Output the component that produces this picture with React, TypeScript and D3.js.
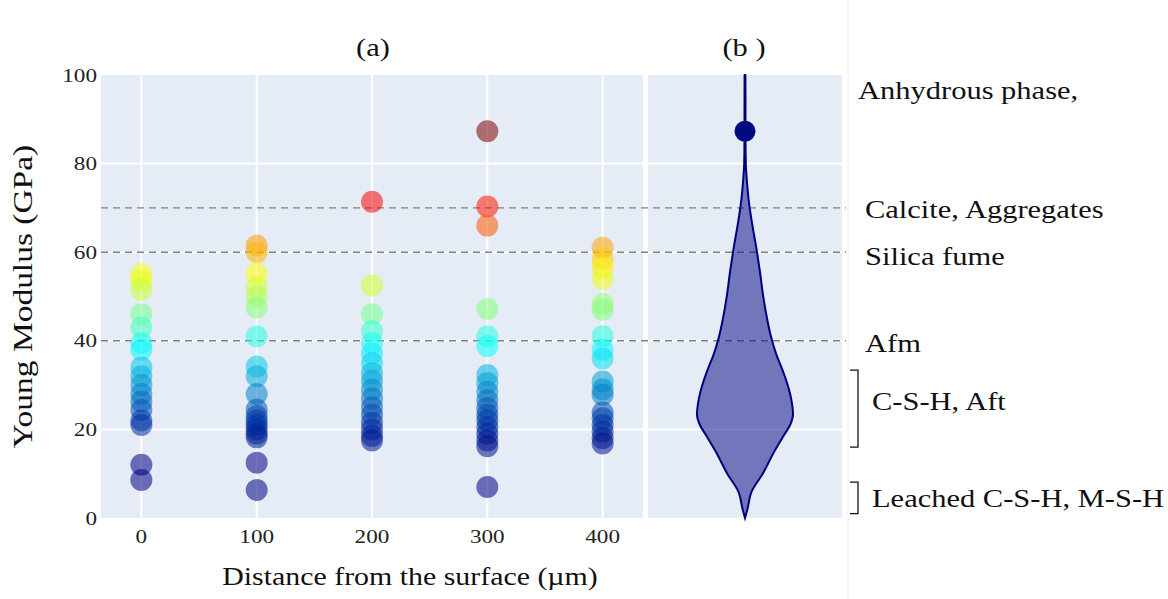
import React from 'react';
import * as d3 from 'd3';

const width = 1168;
const height = 599;

// distance from the surface (µm) for each measured column
const distances = [0, 100, 200, 300, 400];
const modulus0 = [55, 53.5, 51.5, 46, 43, 39.5, 38, 34, 32, 30, 28, 26.3, 24.4, 22, 21, 12, 8.6];
const modulus100 = [61.5, 60, 55.2, 52.2, 50, 47.5, 41, 34.2, 32, 28, 24.5, 23, 22, 21, 20, 19, 18.2, 12.5, 6.3];
const modulus200 = [71.4, 52.5, 46, 42.2, 39.5, 37.2, 35, 32.7, 31, 29, 27, 25, 23.3, 21.5, 20, 18.5, 17.5];
const modulus300 = [87.3, 70.3, 66, 47.2, 41, 38.8, 32.3, 30.5, 28.5, 26.6, 24.8, 23.3, 22, 20.5, 19, 17.5, 16.2, 7];
const modulus400 = [61, 58.5, 56.5, 54, 48.3, 47, 41, 38, 36, 30.8, 29, 27.8, 23.8, 22.5, 21, 19.5, 18, 16.8];
const columns = [modulus0, modulus100, modulus200, modulus300, modulus400];

const yTicks = [0, 20, 40, 60, 80, 100];
const phaseLevels = [70, 60, 40];

// violin profile: modulus level -> relative half width
const violinLevels = [0, 2, 6, 10, 15, 19, 21, 23.5, 27, 31, 34, 37, 41, 45, 50, 55.7, 60, 67, 71, 76, 80, 85, 100];
const violinDensity = [0, 0.05, 0.14, 0.37, 0.61, 0.83, 0.94, 1.0, 0.96, 0.86, 0.76, 0.65, 0.54, 0.46, 0.38, 0.31, 0.25, 0.14, 0.085, 0.04, 0.016, 0.008, 0.005];
const violinOutlier = 87.3;

const phaseLabels = ['Anhydrous phase,', 'Calcite, Aggregates', 'Silica fume', 'Afm', 'C-S-H, Aft', 'Leached C-S-H, M-S-H'];
const labelX = [858, 865, 865, 865, 872, 872];
const labelBase = [99, 218, 265, 352, 410, 507];
const brackets = [[16, 33.4], [1, 8.1]];

const jetStops = [0, 0.125, 0.375, 0.625, 0.875, 1];
const jetColors = ['rgb(0,0,131)', 'rgb(0,60,170)', 'rgb(5,255,255)', 'rgb(255,255,0)', 'rgb(250,0,0)', 'rgb(128,0,0)'];

const FONT = '"Liberation Serif", "Times New Roman", serif';

const T = ({ x, y, size, anchor = 'start', rotate = 0, sx = 1.22, fill = '#111', children }: any) => (
  <text
    transform={`translate(${x},${y}) rotate(${rotate}) scale(${sx},1)`}
    textAnchor={anchor}
    fontFamily={FONT}
    fontSize={size}
    fill={fill}
  >
    {children}
  </text>
);

export default function App() {
  const pa = { left: 101, right: 643, top: 75, bottom: 518 };
  const pb = { left: 648, right: 842 };

  const x = d3.scaleLinear().domain([-35, 435]).range([pa.left, pa.right]);
  const y = d3.scaleLinear().domain([0, 100]).range([pa.bottom, pa.top]);
  const color = d3
    .scaleLinear<string>()
    .domain(jetStops.map(t => 14 + t * 66))
    .range(jetColors)
    .clamp(true);

  const cx = (pb.left + pb.right) / 2;
  const w = d3.scaleLinear().domain([0, 1]).range([0, 48]);
  const violinPath = d3
    .area<number>()
    .y((_, i) => y(violinLevels[i]))
    .x0((d) => cx - w(d))
    .x1((d) => cx + w(d))
    .curve(d3.curveMonotoneY)(violinDensity) as string;

  const points = columns.flatMap((col, i) => col.map(v => ({ d: distances[i], v })));

  return (
    <svg width={width} height={height} style={{ position: 'absolute', left: 0, top: 0, background: '#fff' }}>
      <rect x={0} y={0} width={width} height={height} fill="#fff" />
      <line x1={848} x2={848} y1={0} y2={height} stroke="#eeeeee" strokeWidth={1} />

      {/* panel backgrounds */}
      <rect x={pa.left} y={pa.top} width={pa.right - pa.left} height={pa.bottom - pa.top} fill="#e5ecf6" />
      <rect x={pb.left} y={pa.top} width={pb.right - pb.left} height={pa.bottom - pa.top} fill="#e5ecf6" />

      {/* grid */}
      {yTicks.slice(1, -1).map(t => (
        <g key={'gy' + t}>
          <line x1={pa.left} x2={pa.right} y1={y(t)} y2={y(t)} stroke="#fff" strokeWidth={2} />
          <line x1={pb.left} x2={pb.right} y1={y(t)} y2={y(t)} stroke="#fff" strokeWidth={2} />
        </g>
      ))}
      {distances.map(d => (
        <line key={'gx' + d} x1={x(d)} x2={x(d)} y1={pa.top} y2={pa.bottom} stroke="#fff" strokeWidth={2} />
      ))}

      {/* phase boundaries */}
      {phaseLevels.map(p => (
        <line key={'ph' + p} x1={pa.left} x2={846} y1={y(p)} y2={y(p)} stroke="#808080" strokeWidth={1.4} strokeDasharray="7,5" />
      ))}

      {/* scatter */}
      {points.map((p, i) => (
        <circle key={i} cx={x(p.d)} cy={y(p.v)} r={11} fill={color(p.v)} fillOpacity={0.55} />
      ))}

      {/* violin */}
      <path d={violinPath} fill="rgba(0,0,128,0.5)" stroke="#00007f" strokeWidth={2} />
      <line x1={cx} x2={cx} y1={y(100)} y2={y(80)} stroke="#00007f" strokeWidth={2.5} />
      <circle cx={cx} cy={y(violinOutlier)} r={10.5} fill="#000a80" />

      {/* axis ticks */}
      {yTicks.map(t => (
        <T key={'yt' + t} x={97} y={y(t) + 6.5} size={19} anchor="end" fill="#222">{t}</T>
      ))}
      {distances.map(d => (
        <T key={'xt' + d} x={x(d)} y={543} size={19} anchor="middle" fill="#222">{d}</T>
      ))}

      {/* titles */}
      <T x={32} y={(pa.top + pa.bottom) / 2} size={27} sx={1.24} anchor="middle" rotate={-90}>Young Modulus (GPa)</T>
      <T x={410} y={585} size={24.5} anchor="middle">Distance from the surface (µm)</T>
      <T x={373} y={56} size={25} anchor="middle">(a)</T>
      <T x={744} y={56} size={25} anchor="middle">(b )</T>

      {/* phase annotations */}
      {phaseLabels.map((l, i) => (
        <T key={l} x={labelX[i]} y={labelBase[i]} size={25}>{l}</T>
      ))}
      {brackets.map(([lo, hi], i) => (
        <path
          key={'br' + i}
          d={`M850,${y(hi)}H858V${y(lo)}H850`}
          fill="none"
          stroke="#111"
          strokeWidth={1.3}
        />
      ))}
    </svg>
  );
}
